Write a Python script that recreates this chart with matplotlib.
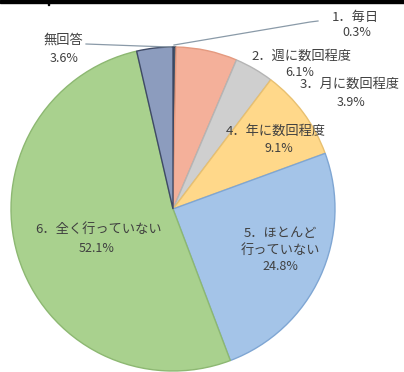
import matplotlib
matplotlib.use("Agg")
import matplotlib.pyplot as plt
from matplotlib.patches import Rectangle

plt.rcParams['font.family'] = ['Noto Sans CJK JP', 'DejaVu Sans']

categories = ["1．毎日", "2．週に数回程度", "3．月に数回程度", "4．年に数回程度",
              "5．ほとんど\n行っていない", "6．全く行っていない", "無回答"]
values = [0.3, 6.1, 3.9, 9.1, 24.8, 52.1, 3.6]
colors = ["#44546A", "#F4B09A", "#CFCFCF", "#FFD88A", "#A4C4E8", "#A9D18E", "#8C9CBE"]
edges = ["#2F3B4D", "#E49A80", "#B5B5B5", "#E8C070", "#7FA6D3", "#8DB872", "#3F4A66"]

W, H = 404, 372
fig = plt.figure(figsize=(W / 100, H / 100), dpi=100)
ax = fig.add_axes([0, 0, 1, 1])

def Y(y):
    return H - y

cx, cy, r = 173, 209, 162
wedges, _ = ax.pie(values, colors=colors, startangle=90, counterclock=False,
                   center=(cx, Y(cy)), radius=r, frame=True,
                   wedgeprops=dict(linewidth=1.0))
for w, ec in zip(wedges, edges):
    w.set_edgecolor(ec)
ax.set_xlim(0, W)
ax.set_ylim(0, H)
ax.set_aspect('equal')
ax.axis('off')

tc = "#404040"
fs = 9.5
def lab(x, y, s, size=fs):
    ax.text(x, Y(y), s, ha='center', va='center', fontsize=size, color=tc)

pct = [f"{v:.1f}%" for v in values]
pfs = 9
# label lines: (category lines, positions)
lab(355, 17, categories[0]); lab(357, 33, pct[0], pfs)
lab(302, 56, categories[1]); lab(300, 73, pct[1], pfs)
lab(350, 84, categories[2]); lab(351, 102, pct[2], pfs)
lab(276, 131, categories[3]); lab(279, 148, pct[3], pfs)
l5 = categories[4].split("\n")
lab(280, 233, l5[0]); lab(280, 250, l5[1]); lab(280, 267, pct[4], pfs)
lab(99, 229, categories[5]); lab(97, 248, pct[5], pfs)
lab(63, 40, categories[6]); lab(64, 58, pct[6], pfs)

# leader lines
ax.plot([86, 140, 171], [Y(44), Y(46), Y(47)], color="#8a9aa8", lw=0.9)
ax.plot([174, 310, 318], [Y(45), Y(22), Y(21)], color="#8a9aa8", lw=0.9)

# top border bar
ax.add_patch(Rectangle((0, H - 2.5), W, 2.5, color="black", clip_on=False))
ax.add_patch(Rectangle((47.5, H - 5), 1.2, 5, color="black", clip_on=False))

fig.savefig("out.png", dpi=100)
